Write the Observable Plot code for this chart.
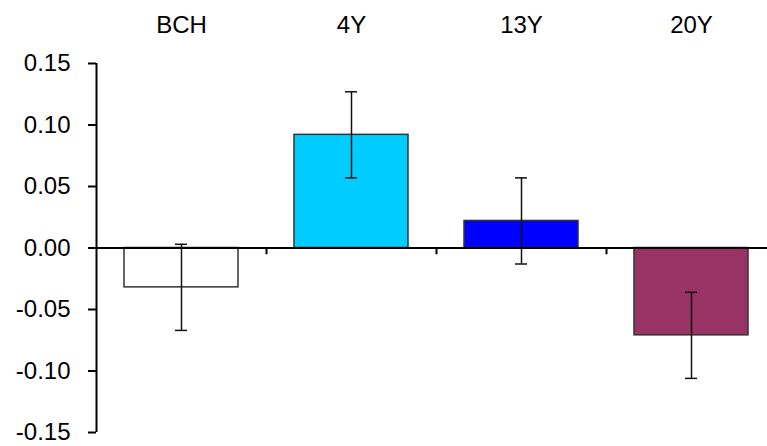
<!DOCTYPE html>
<html>
<head>
<meta charset="utf-8">
<script src="https://cdn.jsdelivr.net/npm/d3@7"></script>
<script src="https://cdn.jsdelivr.net/npm/@observablehq/plot@0.6"></script>
<style>
  html, body { margin: 0; padding: 0; background: #fff; }
  svg { display: block; }
</style>
</head>
<body>
<div id="chart"></div>
<script>
const categories = ["BCH", "4Y", "13Y", "20Y"];
const values = [-0.032, 0.092, 0.022, -0.071];
const errors = [0.035, 0.035, 0.035, 0.035];
const fills = ["#ffffff", "#00ccff", "#0000ff", "#993366"];
const yTicks = [-0.15, -0.10, -0.05, 0.00, 0.05, 0.10, 0.15];

const data = categories.map((c, i) => ({
  cat: c, value: values[i], lo: values[i] - errors[i], hi: values[i] + errors[i], fill: fills[i]
}));

const chart = Plot.plot({
  width: 767,
  height: 446,
  marginTop: 63,
  marginBottom: 14,
  marginLeft: 96,
  marginRight: 0,
  style: { fontFamily: "'Liberation Sans', Arial, sans-serif", fontSize: "24px", color: "#000", background: "#fff" },
  x: { domain: categories, range: [96, 776], paddingInner: 0.33, paddingOuter: 0.165, align: 0.5 },
  y: { domain: [-0.15, 0.15], range: [432, 63] },
  marks: [
    Plot.barY(data, { x: "cat", y: "value", fill: d => d.fill, stroke: "#333", strokeWidth: 1.5 }),
    Plot.ruleY([0], { stroke: "#000", strokeWidth: 2 }),
    Plot.ruleX(categories.slice(1), { x: d => d, y1: 0, y2: -0.0055, dx: -85, stroke: "#000", strokeWidth: 2 }),
    Plot.ruleX(categories.slice(0, 1), { x: d => d, y1: -0.15, y2: 0.15, dx: -85, stroke: "#000", strokeWidth: 2 }),
    Plot.ruleX(data, { x: "cat", y1: "lo", y2: "hi", stroke: "#111", strokeWidth: 1.5 }),
    Plot.tickY(data, { x: "cat", y: "hi", insetLeft: 51, insetRight: 51, stroke: "#111", strokeWidth: 1.5 }),
    Plot.tickY(data, { x: "cat", y: "lo", insetLeft: 51, insetRight: 51, stroke: "#111", strokeWidth: 1.5 }),
    Plot.axisY({ ticks: yTicks, tickFormat: d => d.toFixed(2).replace("-0.00", "0.00"), tickSize: 8, tickPadding: 18, strokeWidth: 2, label: null, fontSize: 24 }),
    Plot.axisX({ anchor: "top", tickSize: 0, tickPadding: 31, label: null, fontSize: 24 })
  ]
});

document.getElementById("chart").appendChild(chart);
</script>
</body>
</html>
